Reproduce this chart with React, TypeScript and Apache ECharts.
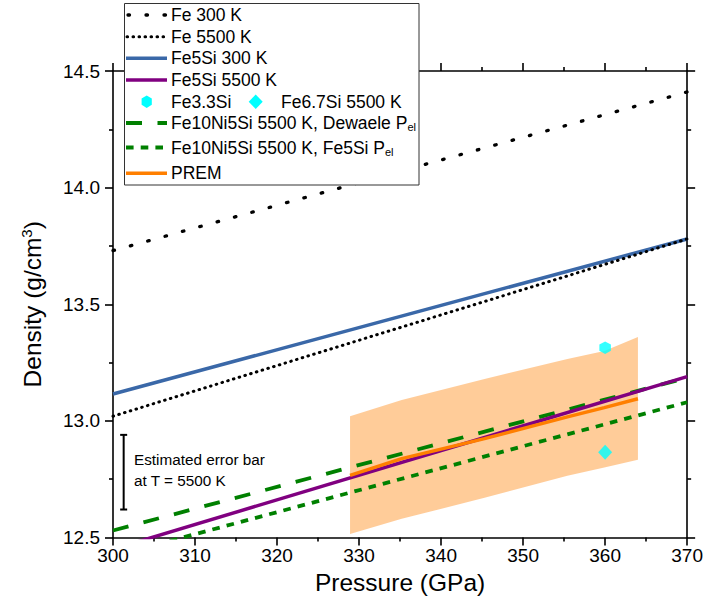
import React, { useEffect, useRef } from "react";
import * as echarts from "echarts";

const FONT = "'Liberation Sans', Arial, Helvetica, sans-serif";

// ---- data ----
const pressureMin = 300;
const pressureMax = 370;
const pressureStep = 10;
const densityMin = 12.5;
const densityMax = 14.5;
const densityStep = 0.5;

const fe300K = [[300, 13.73], [370, 14.41]];
const fe5500K = [[300, 13.02], [370, 13.78]];
const fe5si300K = [[300, 13.115], [370, 13.78]];
const fe5si5500K = [[300, 12.45], [370, 13.19]];
const feNiSiDewaele = [[300, 12.53], [370, 13.185]];
const feNiSiFe5Si = [[300, 12.42], [370, 13.08]];

const premPressure = [328.9, 335.2, 345.3, 355.4, 359.9, 364.0];
const premDensity = [12.766, 12.838, 12.924, 13.017, 13.057, 13.095];
const premUpper = [13.02, 13.09, 13.18, 13.265, 13.3, 13.36];
const premLower = [12.515, 12.58, 12.67, 12.765, 12.8, 12.833];

const fe33Si = [[360, 13.314]];
const fe67Si = [[360, 12.866]];
const errorBar = [[301.3, 12.62, 12.94]];

const legendLabels = [
  "Fe 300 K",
  "Fe 5500 K",
  "Fe5Si 300 K",
  "Fe5Si 5500 K",
  "Fe3.3Si",
  "Fe6.7Si 5500 K",
  "Fe10Ni5Si 5500 K, Dewaele P",
  "Fe10Ni5Si 5500 K, Fe5Si P",
  "PREM",
];

// ---- styles ----
const C_BLUE = "#3a68a8";
const C_PURPLE = "#800080";
const C_GREEN = "#008000";
const C_ORANGE = "#ff7f00";
const C_CYAN = "#00ffff";
const BAND = "rgba(255,128,0,0.4)";

const DASH_FE300: number[] = [1.5, 16.5];
const DASH_FE5500: number[] = [0.6, 5.4];
const DASH_LONG: number[] = [16, 15.5];
const DASH_SHORT: number[] = [7.6, 7.1];

const HEX_PATH =
  "path://M0,-1 L0.866,-0.5 L0.866,0.5 L0,1 L-0.866,0.5 L-0.866,-0.5 Z";

function lineSeries(name: string, data: number[][], color: string, width: number, type: any, cap = "butt") {
  return {
    name,
    type: "line",
    data,
    showSymbol: false,
    symbol: "none",
    silent: true,
    clip: true,
    lineStyle: { color, width, type, cap },
  };
}

function hexPoints(cx: number, cy: number, r: number) {
  const pts: number[][] = [];
  for (let i = 0; i < 6; i++) {
    const a = -Math.PI / 2 + (i * Math.PI) / 3;
    pts.push([cx + r * 0.95 * Math.cos(a), cy + r * Math.sin(a)]);
  }
  return pts;
}

function buildLegend() {
  const rows = [15, 36.7, 58.3, 80, 101.7, 123, 147.5, 173.3];
  const x1 = 126;
  const x2 = 167;
  const tx = 171;
  const FS = 17.5;
  const txt = (text: string, x: number, y: number, rich = false) => ({
    type: "text",
    x,
    y,
    z: 101,
    style: rich
      ? {
          text: `{n|${text}}{s|el}`,
          rich: {
            n: { fontSize: FS, fontFamily: FONT, fill: "#000", lineHeight: 20, verticalAlign: "middle" },
            s: { fontSize: 11, fontFamily: FONT, fill: "#000", lineHeight: 11, padding: [8, 0, 0, 0], verticalAlign: "middle" },
          },
          verticalAlign: "middle",
          align: "left",
        }
      : {
          text,
          fontSize: FS,
          fontFamily: FONT,
          fill: "#000",
          verticalAlign: "middle",
          align: "left",
        },
  });
  const ln = (y: number, stroke: string, lineWidth: number, dash: any, cap = "butt", xa = x1, xb = x2) => ({
    type: "line",
    z: 101,
    shape: { x1: xa, y1: y, x2: xb, y2: y },
    style: { stroke, lineWidth, lineDash: dash, lineCap: cap },
  });
  const els: any[] = [
    {
      type: "rect",
      z: 100,
      shape: { x: 124.5, y: 3.5, width: 294.5, height: 181.5 },
      style: { fill: "#fff", stroke: "#333", lineWidth: 1 },
    },
    ln(rows[0], "#000", 3.3, DASH_FE300, "round", 128, 167),
    txt(legendLabels[0], tx, rows[0]),
    ln(rows[1], "#000", 3, DASH_FE5500, "round", 127, 167),
    txt(legendLabels[1], tx, rows[1]),
    ln(rows[2], C_BLUE, 3.5, null),
    txt(legendLabels[2], tx, rows[2]),
    ln(rows[3], C_PURPLE, 3.5, null),
    txt(legendLabels[3], tx, rows[3]),
    {
      type: "polygon",
      z: 101,
      shape: { points: hexPoints(146.7, rows[4], 6.2) },
      style: { fill: C_CYAN },
    },
    txt(legendLabels[4], tx, rows[4]),
    {
      type: "polygon",
      z: 101,
      shape: {
        points: [
          [255.7, rows[4] - 7.3],
          [262.7, rows[4]],
          [255.7, rows[4] + 7.3],
          [248.7, rows[4]],
        ],
      },
      style: { fill: C_CYAN },
    },
    txt(legendLabels[5], 281, rows[4]),
    ln(rows[5], C_GREEN, 3.8, DASH_LONG, "butt", 126, 167),
    txt(legendLabels[6], tx, rows[5], true),
    ln(rows[6], C_GREEN, 3.8, DASH_SHORT, "butt", 126, 163),
    txt(legendLabels[7], tx, rows[6], true),
    ln(rows[7], C_ORANGE, 3.5, null),
    txt(legendLabels[8], tx, rows[7]),
    {
      type: "text",
      x: 134,
      y: 448.5,
      z: 50,
      style: {
        text: "Estimated error bar\nat T = 5500 K",
        fontSize: 15.3,
        lineHeight: 21,
        fontFamily: FONT,
        fill: "#000",
        align: "left",
        verticalAlign: "top",
      },
    },
  ];
  return els;
}

const axisCommon = {
  axisLine: { show: true, onZero: false, lineStyle: { color: "#000", width: 1.6 } },
  axisTick: { show: true, inside: false, length: 8, lineStyle: { color: "#000", width: 1.6 } },
  minorTick: { show: true, splitNumber: 2, length: 4, lineStyle: { color: "#000", width: 1.6 } },
  splitLine: { show: false },
  minorSplitLine: { show: false },
};

export default function App() {
  const ref = useRef<HTMLDivElement>(null);
  useEffect(() => {
    if (!ref.current) return;
    const chart = echarts.init(ref.current, null, { renderer: "svg" });
    const option: any = {
      animation: false,
      backgroundColor: "#fff",
      textStyle: { fontFamily: FONT },
      grid: { left: 113, right: 16, top: 71, bottom: 74.5, containLabel: false },
      xAxis: [
        {
          type: "value",
          position: "bottom",
          min: pressureMin,
          max: pressureMax,
          interval: pressureStep,
          ...axisCommon,
          axisLabel: { show: true, fontSize: 19, color: "#000", margin: 8, fontFamily: FONT },
          name: "Pressure (GPa)",
          nameLocation: "middle",
          nameGap: 32,
          nameTextStyle: { fontSize: 24.5, color: "#000", fontFamily: FONT },
        },
        {
          type: "value",
          position: "top",
          min: pressureMin,
          max: pressureMax,
          interval: pressureStep,
          ...axisCommon,
          axisLabel: { show: false },
        },
      ],
      yAxis: [
        {
          type: "value",
          position: "left",
          min: densityMin,
          max: densityMax,
          interval: densityStep,
          ...axisCommon,
          axisLabel: {
            show: true,
            fontSize: 19,
            color: "#000",
            margin: 13,
            fontFamily: FONT,
            formatter: (v: number) => v.toFixed(1),
          },
          name: "Density (g/cm{sup|3})",
          nameLocation: "middle",
          nameGap: 68,
          nameTextStyle: {
            fontSize: 24.5,
            color: "#000",
            fontFamily: FONT,
            lineHeight: 26,
            rich: {
              sup: { fontSize: 15, lineHeight: 15, padding: [0, 0, 11, 0], fontFamily: FONT, color: "#000" },
            },
          },
        },
        {
          type: "value",
          position: "right",
          min: densityMin,
          max: densityMax,
          interval: densityStep,
          ...axisCommon,
          axisLabel: { show: false },
        },
      ],
      series: [
        lineSeries("Fe 300 K", fe300K, "#000", 3.3, DASH_FE300, "round"),
        lineSeries("Fe5Si 300 K", fe5si300K, C_BLUE, 3.5, "solid"),
        lineSeries("Fe 5500 K", fe5500K, "#000", 3, DASH_FE5500, "round"),
        lineSeries("Fe10Ni5Si 5500 K, Dewaele Pel", feNiSiDewaele, C_GREEN, 3.8, DASH_LONG),
        lineSeries("Fe5Si 5500 K", fe5si5500K, C_PURPLE, 3.5, "solid"),
        lineSeries("Fe10Ni5Si 5500 K, Fe5Si Pel", feNiSiFe5Si, C_GREEN, 3.8, DASH_SHORT),
        {
          name: "PREM range",
          type: "custom",
          silent: true,
          clip: true,
          data: premPressure.map((p, i) => [p, premUpper[i], premLower[i]]),
          encode: { x: 0, y: [1, 2] },
          renderItem: (params: any, api: any) => {
            if (params.dataIndex !== 0) return null;
            const pts: number[][] = [];
            for (let i = 0; i < premPressure.length; i++) pts.push(api.coord([premPressure[i], premUpper[i]]));
            for (let i = premPressure.length - 1; i >= 0; i--) pts.push(api.coord([premPressure[i], premLower[i]]));
            return { type: "polygon", shape: { points: pts }, style: { fill: BAND } };
          },
          z: 3,
        },
        {
          ...lineSeries("PREM", premPressure.map((p, i) => [p, premDensity[i]]), C_ORANGE, 3.5, "solid"),
          z: 4,
        },
        {
          name: "Fe3.3Si",
          type: "scatter",
          data: fe33Si,
          symbol: HEX_PATH,
          symbolSize: [11.5, 12.5],
          itemStyle: { color: C_CYAN },
          silent: true,
          z: 5,
        },
        {
          name: "Fe6.7Si 5500 K",
          type: "scatter",
          data: fe67Si,
          symbol: "diamond",
          symbolSize: [14, 15],
          itemStyle: { color: C_CYAN },
          silent: true,
          z: 5,
        },
        {
          name: "Estimated error bar",
          type: "custom",
          silent: true,
          data: errorBar,
          encode: { x: 0, y: [1, 2] },
          renderItem: (params: any, api: any) => {
            const x = api.value(0);
            const lo = api.coord([x, api.value(1)]);
            const hi = api.coord([x, api.value(2)]);
            const w = 3.5;
            const st = { stroke: "#000", lineWidth: 2 };
            return {
              type: "group",
              children: [
                { type: "line", shape: { x1: lo[0], y1: lo[1], x2: hi[0], y2: hi[1] }, style: st },
                { type: "line", shape: { x1: lo[0] - w, y1: lo[1], x2: lo[0] + w, y2: lo[1] }, style: st },
                { type: "line", shape: { x1: hi[0] - w, y1: hi[1], x2: hi[0] + w, y2: hi[1] }, style: st },
              ],
            };
          },
          z: 5,
        },
      ],
      graphic: buildLegend(),
    };
    chart.setOption(option);
    return () => chart.dispose();
  }, []);
  return (
    <div
      ref={ref}
      style={{ position: "fixed", left: 0, top: 0, width: 706, height: 612, background: "#fff" }}
    />
  );
}
